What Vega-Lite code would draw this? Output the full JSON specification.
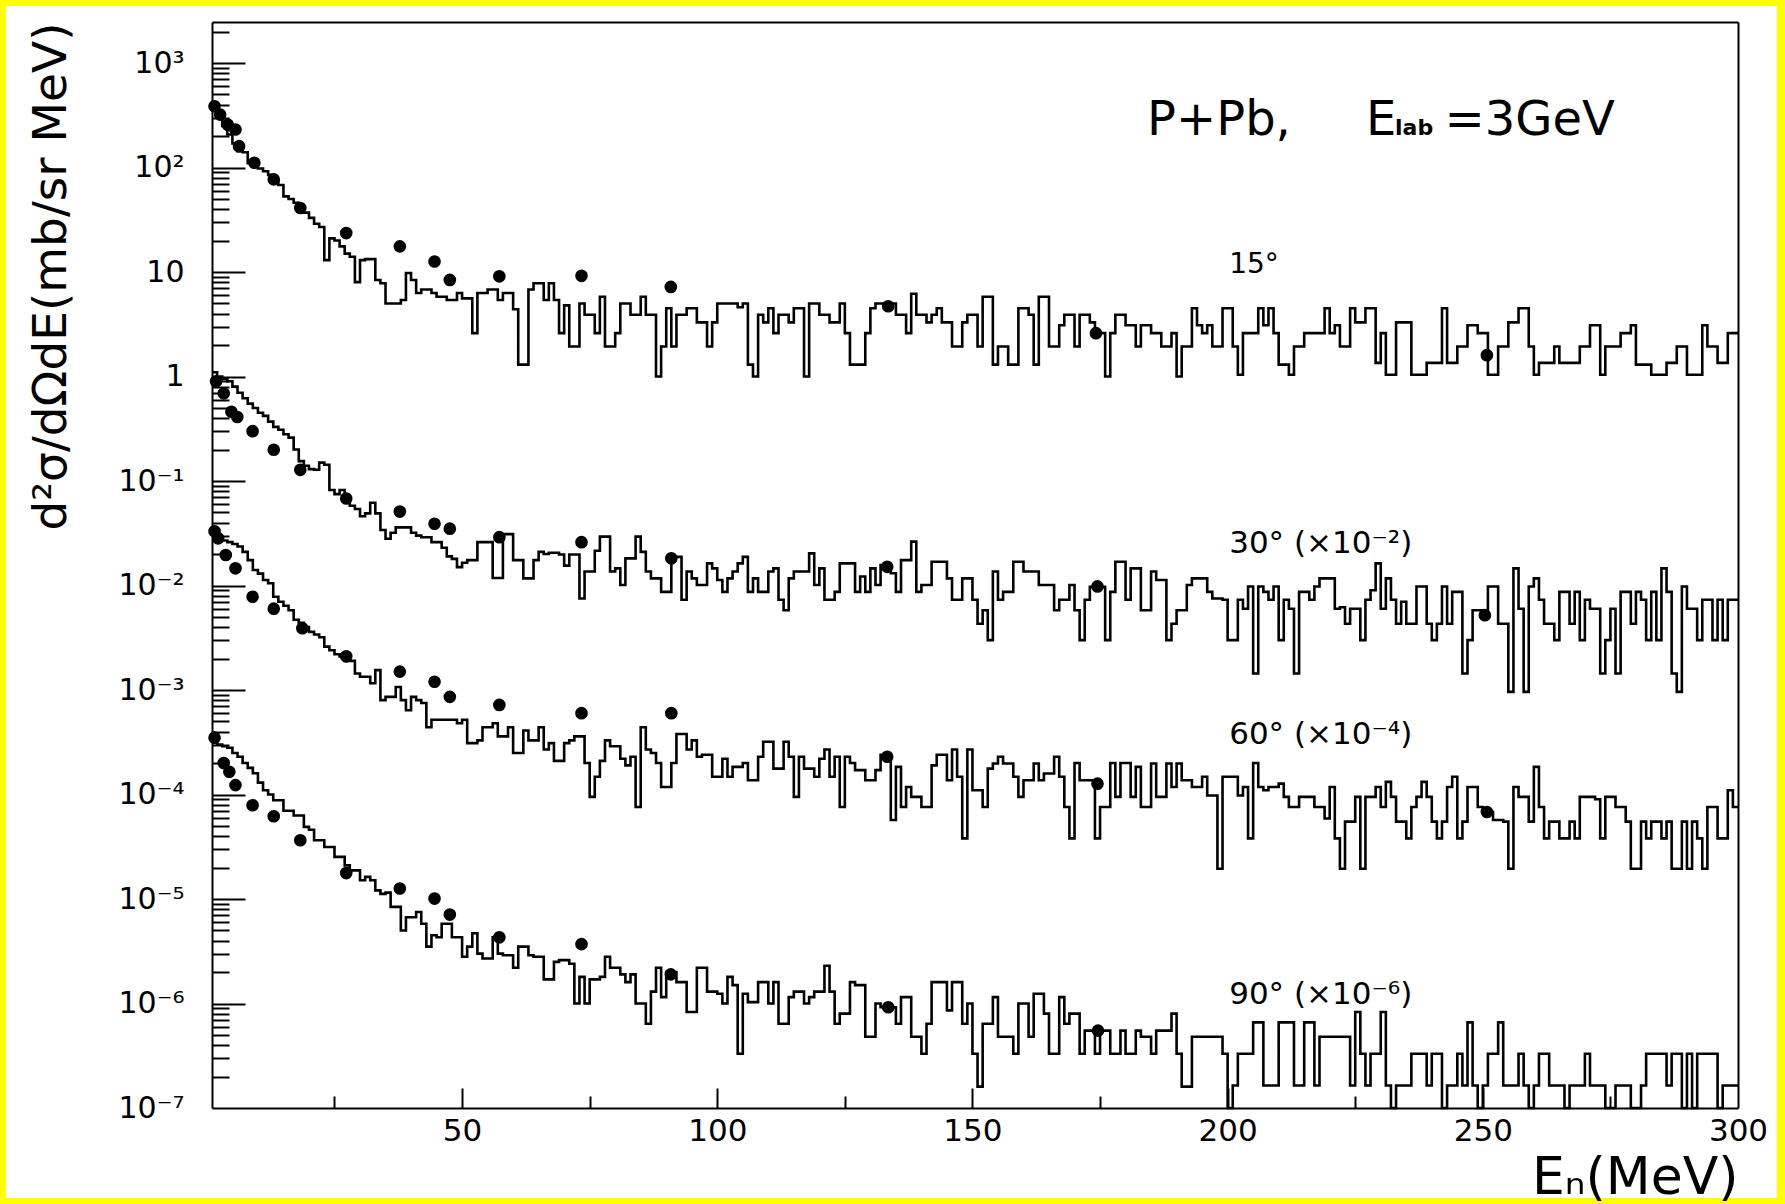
{
"$schema":"https://vega.github.io/schema/vega-lite/v6.json",
"width":1771,"height":1192,
"autosize":{"type":"none"},
"padding":{"left":6,"top":6,"right":8,"bottom":6},
"background":"#ffff00",
"config":{"view":{"fill":"#ffffff","stroke":null},"font":"DejaVu Sans",
"axis":{"grid":false,"domainColor":"#000000","domainWidth":2,"tickColor":"#000000","tickWidth":2,"labelColor":"#000000","titleColor":"#000000","labelFont":"DejaVu Sans","titleFont":"DejaVu Sans","titleFontWeight":"normal","labelFlush":false,"labelOverlap":false}},
"datasets":{
"hist":[
{"a":15,"e":1,"v":360},{"a":15,"e":2,"v":300},{"a":15,"e":3,"v":250},{"a":15,"e":4,"v":207},{"a":15,"e":5,"v":170},{"a":15,"e":6,"v":143},{"a":15,"e":7,"v":140},{"a":15,"e":8,"v":110},{"a":15,"e":9,"v":102},{"a":15,"e":10,"v":98},
{"a":15,"e":11,"v":92},{"a":15,"e":12,"v":85},{"a":15,"e":13,"v":76},{"a":15,"e":14,"v":68},{"a":15,"e":15,"v":53},{"a":15,"e":16,"v":50},{"a":15,"e":17,"v":46},{"a":15,"e":18,"v":40},{"a":15,"e":19,"v":37},{"a":15,"e":20,"v":33},
{"a":15,"e":21,"v":29},{"a":15,"e":22,"v":27},{"a":15,"e":23,"v":13},{"a":15,"e":24,"v":21},{"a":15,"e":25,"v":20},{"a":15,"e":26,"v":17.6},{"a":15,"e":27,"v":15},{"a":15,"e":28,"v":14},{"a":15,"e":29,"v":8},{"a":15,"e":30,"v":13},
{"a":15,"e":31,"v":13.3},{"a":15,"e":32,"v":13.3},{"a":15,"e":33,"v":8.4},{"a":15,"e":34,"v":7.8},{"a":15,"e":35,"v":5},{"a":15,"e":36,"v":5},{"a":15,"e":37,"v":5},{"a":15,"e":38,"v":5.4},{"a":15,"e":39,"v":9.8},{"a":15,"e":40,"v":8.4},
{"a":15,"e":41,"v":6.3},{"a":15,"e":42,"v":6.8},{"a":15,"e":43,"v":6.8},{"a":15,"e":44,"v":6.3},{"a":15,"e":45,"v":5.8},{"a":15,"e":46,"v":5.8},{"a":15,"e":47,"v":5.4},{"a":15,"e":48,"v":5.4},{"a":15,"e":49,"v":6.3},{"a":15,"e":50,"v":5.6},
{"a":15,"e":51,"v":5.6},{"a":15,"e":52,"v":2.6},{"a":15,"e":53,"v":6.3},{"a":15,"e":54,"v":6.3},{"a":15,"e":55,"v":6.8},{"a":15,"e":56,"v":6.8},{"a":15,"e":57,"v":5.4},{"a":15,"e":58,"v":6.3},{"a":15,"e":59,"v":6.3},{"a":15,"e":60,"v":4.4},
{"a":15,"e":61,"v":1.3},{"a":15,"e":62,"v":1.3},{"a":15,"e":63,"v":6.8},{"a":15,"e":64,"v":7.8},{"a":15,"e":65,"v":7.8},{"a":15,"e":66,"v":5.4},{"a":15,"e":67,"v":7.8},{"a":15,"e":68,"v":5.4},{"a":15,"e":69,"v":2.6},{"a":15,"e":70,"v":4.8},
{"a":15,"e":71,"v":1.94},{"a":15,"e":72,"v":1.94},{"a":15,"e":73,"v":5},{"a":15,"e":74,"v":3.9},{"a":15,"e":75,"v":3.9},{"a":15,"e":76,"v":2.6},{"a":15,"e":77,"v":5.8},{"a":15,"e":78,"v":1.94},{"a":15,"e":79,"v":1.94},{"a":15,"e":80,"v":2.6},
{"a":15,"e":81,"v":5},{"a":15,"e":82,"v":5},{"a":15,"e":83,"v":3.9},{"a":15,"e":84,"v":3.9},{"a":15,"e":85,"v":5.8},{"a":15,"e":86,"v":3.9},{"a":15,"e":87,"v":3.9},{"a":15,"e":88,"v":1},{"a":15,"e":89,"v":1.94},{"a":15,"e":90,"v":4.5},
{"a":15,"e":91,"v":1.94},{"a":15,"e":92,"v":3.9},{"a":15,"e":93,"v":3.9},{"a":15,"e":94,"v":4.5},{"a":15,"e":95,"v":4.5},{"a":15,"e":96,"v":3.3},{"a":15,"e":97,"v":3.3},{"a":15,"e":98,"v":1.94},{"a":15,"e":99,"v":3.3},{"a":15,"e":100,"v":5},
{"a":15,"e":101,"v":5},{"a":15,"e":102,"v":5},{"a":15,"e":103,"v":5},{"a":15,"e":104,"v":4.6},{"a":15,"e":105,"v":5},{"a":15,"e":106,"v":1.3},{"a":15,"e":107,"v":1},{"a":15,"e":108,"v":3.9},{"a":15,"e":109,"v":3.3},{"a":15,"e":110,"v":4.5},
{"a":15,"e":111,"v":2.6},{"a":15,"e":112,"v":3.9},{"a":15,"e":113,"v":3.9},{"a":15,"e":114,"v":3.3},{"a":15,"e":115,"v":4.5},{"a":15,"e":116,"v":4.5},{"a":15,"e":117,"v":1},{"a":15,"e":118,"v":5},{"a":15,"e":119,"v":5},{"a":15,"e":120,"v":3.9},
{"a":15,"e":121,"v":3.9},{"a":15,"e":122,"v":3.3},{"a":15,"e":123,"v":3.3},{"a":15,"e":124,"v":5},{"a":15,"e":125,"v":2.6},{"a":15,"e":126,"v":1.3},{"a":15,"e":127,"v":1.3},{"a":15,"e":128,"v":1.3},{"a":15,"e":129,"v":2.6},{"a":15,"e":130,"v":4.5},
{"a":15,"e":131,"v":5},{"a":15,"e":132,"v":5},{"a":15,"e":133,"v":4.7},{"a":15,"e":134,"v":5},{"a":15,"e":135,"v":3.9},{"a":15,"e":136,"v":3.9},{"a":15,"e":137,"v":2.6},{"a":15,"e":138,"v":6.2},{"a":15,"e":139,"v":3.9},{"a":15,"e":140,"v":3.9},
{"a":15,"e":141,"v":3.3},{"a":15,"e":142,"v":3.9},{"a":15,"e":143,"v":4.5},{"a":15,"e":144,"v":3.3},{"a":15,"e":145,"v":3.3},{"a":15,"e":146,"v":1.94},{"a":15,"e":147,"v":1.94},{"a":15,"e":148,"v":3.3},{"a":15,"e":149,"v":3.9},{"a":15,"e":150,"v":3.9},
{"a":15,"e":151,"v":1.94},{"a":15,"e":152,"v":5.8},{"a":15,"e":153,"v":5.8},{"a":15,"e":154,"v":1.3},{"a":15,"e":155,"v":1.94},{"a":15,"e":156,"v":1.94},{"a":15,"e":157,"v":1.3},{"a":15,"e":158,"v":1.3},{"a":15,"e":159,"v":4.5},{"a":15,"e":160,"v":4.5},
{"a":15,"e":161,"v":3.9},{"a":15,"e":162,"v":1.3},{"a":15,"e":163,"v":5.8},{"a":15,"e":164,"v":5.8},{"a":15,"e":165,"v":1.94},{"a":15,"e":166,"v":1.94},{"a":15,"e":167,"v":3.1},{"a":15,"e":168,"v":3.9},{"a":15,"e":169,"v":3.9},{"a":15,"e":170,"v":1.94},
{"a":15,"e":171,"v":3.9},{"a":15,"e":172,"v":3.9},{"a":15,"e":173,"v":3.3},{"a":15,"e":174,"v":2.6},{"a":15,"e":175,"v":2.6},{"a":15,"e":176,"v":1},{"a":15,"e":177,"v":2.6},{"a":15,"e":178,"v":3.9},{"a":15,"e":179,"v":3.9},{"a":15,"e":180,"v":3.1},
{"a":15,"e":181,"v":3.1},{"a":15,"e":182,"v":1.94},{"a":15,"e":183,"v":3.1},{"a":15,"e":184,"v":3.1},{"a":15,"e":185,"v":2.6},{"a":15,"e":186,"v":2.6},{"a":15,"e":187,"v":1.94},{"a":15,"e":188,"v":1.94},{"a":15,"e":189,"v":2.6},{"a":15,"e":190,"v":1},
{"a":15,"e":191,"v":1.94},{"a":15,"e":192,"v":1.94},{"a":15,"e":193,"v":4.5},{"a":15,"e":194,"v":3.1},{"a":15,"e":195,"v":2.6},{"a":15,"e":196,"v":3.1},{"a":15,"e":197,"v":1.94},{"a":15,"e":198,"v":1.94},{"a":15,"e":199,"v":4.5},{"a":15,"e":200,"v":4.5},
{"a":15,"e":201,"v":1.94},{"a":15,"e":202,"v":1.04},{"a":15,"e":203,"v":2.6},{"a":15,"e":204,"v":2.6},{"a":15,"e":205,"v":2.6},{"a":15,"e":206,"v":4.5},{"a":15,"e":207,"v":3.1},{"a":15,"e":208,"v":4.5},{"a":15,"e":209,"v":2.6},{"a":15,"e":210,"v":1.3},
{"a":15,"e":211,"v":1.3},{"a":15,"e":212,"v":1.04},{"a":15,"e":213,"v":1.94},{"a":15,"e":214,"v":1.94},{"a":15,"e":215,"v":2.6},{"a":15,"e":216,"v":2.6},{"a":15,"e":217,"v":2.6},{"a":15,"e":218,"v":2.6},{"a":15,"e":219,"v":4.5},{"a":15,"e":220,"v":2.6},
{"a":15,"e":221,"v":3.1},{"a":15,"e":222,"v":1.94},{"a":15,"e":223,"v":1.94},{"a":15,"e":224,"v":4.5},{"a":15,"e":225,"v":3.3},{"a":15,"e":226,"v":3.3},{"a":15,"e":227,"v":4.5},{"a":15,"e":228,"v":4.5},{"a":15,"e":229,"v":1.35},{"a":15,"e":230,"v":2.6},
{"a":15,"e":231,"v":1.04},{"a":15,"e":232,"v":1.04},{"a":15,"e":233,"v":3.3},{"a":15,"e":234,"v":3.3},{"a":15,"e":235,"v":3.3},{"a":15,"e":236,"v":1.04},{"a":15,"e":237,"v":1.04},{"a":15,"e":238,"v":1.04},{"a":15,"e":239,"v":1.35},{"a":15,"e":240,"v":1.35},
{"a":15,"e":241,"v":1.35},{"a":15,"e":242,"v":4.5},{"a":15,"e":243,"v":1.35},{"a":15,"e":244,"v":1.35},{"a":15,"e":245,"v":1.94},{"a":15,"e":246,"v":1.94},{"a":15,"e":247,"v":3.1},{"a":15,"e":248,"v":3.1},{"a":15,"e":249,"v":2.6},{"a":15,"e":250,"v":2.6},
{"a":15,"e":251,"v":1.04},{"a":15,"e":252,"v":1.04},{"a":15,"e":253,"v":1.94},{"a":15,"e":254,"v":1.94},{"a":15,"e":255,"v":3.3},{"a":15,"e":256,"v":3.3},{"a":15,"e":257,"v":4.5},{"a":15,"e":258,"v":4.5},{"a":15,"e":259,"v":1.94},{"a":15,"e":260,"v":1.04},
{"a":15,"e":261,"v":1.35},{"a":15,"e":262,"v":1.35},{"a":15,"e":263,"v":1.35},{"a":15,"e":264,"v":1.94},{"a":15,"e":265,"v":1.35},{"a":15,"e":266,"v":1.35},{"a":15,"e":267,"v":1.35},{"a":15,"e":268,"v":1.35},{"a":15,"e":269,"v":1.94},{"a":15,"e":270,"v":1.94},
{"a":15,"e":271,"v":3.1},{"a":15,"e":272,"v":3.1},{"a":15,"e":273,"v":1.04},{"a":15,"e":274,"v":1.94},{"a":15,"e":275,"v":1.94},{"a":15,"e":276,"v":1.94},{"a":15,"e":277,"v":2.6},{"a":15,"e":278,"v":2.6},{"a":15,"e":279,"v":3.1},{"a":15,"e":280,"v":1.3},
{"a":15,"e":281,"v":1.3},{"a":15,"e":282,"v":1.3},{"a":15,"e":283,"v":1.04},{"a":15,"e":284,"v":1.04},{"a":15,"e":285,"v":1.04},{"a":15,"e":286,"v":1.35},{"a":15,"e":287,"v":1.35},{"a":15,"e":288,"v":1.94},{"a":15,"e":289,"v":1.94},{"a":15,"e":290,"v":1.04},
{"a":15,"e":291,"v":1.04},{"a":15,"e":292,"v":1.04},{"a":15,"e":293,"v":3.1},{"a":15,"e":294,"v":1.94},{"a":15,"e":295,"v":1.94},{"a":15,"e":296,"v":1.35},{"a":15,"e":297,"v":1.35},{"a":15,"e":298,"v":2.6},{"a":15,"e":299,"v":2.6},{"a":15,"e":300,"v":2.6},
{"a":30,"e":1,"v":1.1},{"a":30,"e":2,"v":1.0},{"a":30,"e":3,"v":0.95},{"a":30,"e":4,"v":0.9},{"a":30,"e":5,"v":0.8},{"a":30,"e":6,"v":0.7},{"a":30,"e":7,"v":0.62},{"a":30,"e":8,"v":0.55},{"a":30,"e":9,"v":0.5},{"a":30,"e":10,"v":0.45},
{"a":30,"e":11,"v":0.42},{"a":30,"e":12,"v":0.37},{"a":30,"e":13,"v":0.33},{"a":30,"e":14,"v":0.31},{"a":30,"e":15,"v":0.28},{"a":30,"e":16,"v":0.26},{"a":30,"e":17,"v":0.2},{"a":30,"e":18,"v":0.155},{"a":30,"e":19,"v":0.14},{"a":30,"e":20,"v":0.13},
{"a":30,"e":21,"v":0.128},{"a":30,"e":22,"v":0.15},{"a":30,"e":23,"v":0.143},{"a":30,"e":24,"v":0.082},{"a":30,"e":25,"v":0.075},{"a":30,"e":26,"v":0.082},{"a":30,"e":27,"v":0.068},{"a":30,"e":28,"v":0.058},{"a":30,"e":29,"v":0.054},{"a":30,"e":30,"v":0.046},
{"a":30,"e":31,"v":0.049},{"a":30,"e":32,"v":0.062},{"a":30,"e":33,"v":0.049},{"a":30,"e":34,"v":0.034},{"a":30,"e":35,"v":0.028},{"a":30,"e":36,"v":0.032},{"a":30,"e":37,"v":0.036},{"a":30,"e":38,"v":0.036},{"a":30,"e":39,"v":0.036},{"a":30,"e":40,"v":0.032},
{"a":30,"e":41,"v":0.03},{"a":30,"e":42,"v":0.029},{"a":30,"e":43,"v":0.029},{"a":30,"e":44,"v":0.026},{"a":30,"e":45,"v":0.026},{"a":30,"e":46,"v":0.023},{"a":30,"e":47,"v":0.019},{"a":30,"e":48,"v":0.018},{"a":30,"e":49,"v":0.015},{"a":30,"e":50,"v":0.0165},
{"a":30,"e":51,"v":0.0175},{"a":30,"e":52,"v":0.0175},{"a":30,"e":53,"v":0.026},{"a":30,"e":54,"v":0.026},{"a":30,"e":55,"v":0.026},{"a":30,"e":56,"v":0.0118},{"a":30,"e":57,"v":0.0118},{"a":30,"e":58,"v":0.031},{"a":30,"e":59,"v":0.031},{"a":30,"e":60,"v":0.0175},
{"a":30,"e":61,"v":0.0175},{"a":30,"e":62,"v":0.0117},{"a":30,"e":63,"v":0.0117},{"a":30,"e":64,"v":0.0175},{"a":30,"e":65,"v":0.021},{"a":30,"e":66,"v":0.02},{"a":30,"e":67,"v":0.0206},{"a":30,"e":68,"v":0.0206},{"a":30,"e":69,"v":0.0198},{"a":30,"e":70,"v":0.0155},
{"a":30,"e":71,"v":0.0198},{"a":30,"e":72,"v":0.0198},{"a":30,"e":73,"v":0.0075},{"a":30,"e":74,"v":0.0136},{"a":30,"e":75,"v":0.0136},{"a":30,"e":76,"v":0.0215},{"a":30,"e":77,"v":0.0294},{"a":30,"e":78,"v":0.0294},{"a":30,"e":79,"v":0.0136},{"a":30,"e":80,"v":0.0146},
{"a":30,"e":81,"v":0.0101},{"a":30,"e":82,"v":0.0182},{"a":30,"e":83,"v":0.0182},{"a":30,"e":84,"v":0.0294},{"a":30,"e":85,"v":0.021},{"a":30,"e":86,"v":0.0136},{"a":30,"e":87,"v":0.0117},{"a":30,"e":88,"v":0.0117},{"a":30,"e":89,"v":0.0087},{"a":30,"e":90,"v":0.0087},
{"a":30,"e":91,"v":0.0188},{"a":30,"e":92,"v":0.0188},{"a":30,"e":93,"v":0.0073},{"a":30,"e":94,"v":0.0136},{"a":30,"e":95,"v":0.0117},{"a":30,"e":96,"v":0.0101},{"a":30,"e":97,"v":0.0101},{"a":30,"e":98,"v":0.0163},{"a":30,"e":99,"v":0.0146},{"a":30,"e":100,"v":0.0113},
{"a":30,"e":101,"v":0.0087},{"a":30,"e":102,"v":0.0117},{"a":30,"e":103,"v":0.0136},{"a":30,"e":104,"v":0.0163},{"a":30,"e":105,"v":0.0188},{"a":30,"e":106,"v":0.0087},{"a":30,"e":107,"v":0.0117},{"a":30,"e":108,"v":0.0087},{"a":30,"e":109,"v":0.0087},{"a":30,"e":110,"v":0.0136},
{"a":30,"e":111,"v":0.0146},{"a":30,"e":112,"v":0.0073},{"a":30,"e":113,"v":0.0058},{"a":30,"e":114,"v":0.0117},{"a":30,"e":115,"v":0.0136},{"a":30,"e":116,"v":0.0136},{"a":30,"e":117,"v":0.0136},{"a":30,"e":118,"v":0.0203},{"a":30,"e":119,"v":0.0101},{"a":30,"e":120,"v":0.0146},
{"a":30,"e":121,"v":0.0073},{"a":30,"e":122,"v":0.0073},{"a":30,"e":123,"v":0.0087},{"a":30,"e":124,"v":0.0163},{"a":30,"e":125,"v":0.0163},{"a":30,"e":126,"v":0.0163},{"a":30,"e":127,"v":0.0087},{"a":30,"e":128,"v":0.0122},{"a":30,"e":129,"v":0.0087},{"a":30,"e":130,"v":0.0146},
{"a":30,"e":131,"v":0.0101},{"a":30,"e":132,"v":0.0157},{"a":30,"e":133,"v":0.0157},{"a":30,"e":134,"v":0.0131},{"a":30,"e":135,"v":0.0087},{"a":30,"e":136,"v":0.0175},{"a":30,"e":137,"v":0.0175},{"a":30,"e":138,"v":0.0263},{"a":30,"e":139,"v":0.0087},{"a":30,"e":140,"v":0.0101},
{"a":30,"e":141,"v":0.0101},{"a":30,"e":142,"v":0.0169},{"a":30,"e":143,"v":0.0169},{"a":30,"e":144,"v":0.0169},{"a":30,"e":145,"v":0.0117},{"a":30,"e":146,"v":0.0073},{"a":30,"e":147,"v":0.0073},{"a":30,"e":148,"v":0.0117},{"a":30,"e":149,"v":0.0117},{"a":30,"e":150,"v":0.0073},
{"a":30,"e":151,"v":0.0043},{"a":30,"e":152,"v":0.0058},{"a":30,"e":153,"v":0.003},{"a":30,"e":154,"v":0.0136},{"a":30,"e":155,"v":0.0073},{"a":30,"e":156,"v":0.0087},{"a":30,"e":157,"v":0.0087},{"a":30,"e":158,"v":0.0169},{"a":30,"e":159,"v":0.0169},{"a":30,"e":160,"v":0.0136},
{"a":30,"e":161,"v":0.0136},{"a":30,"e":162,"v":0.0136},{"a":30,"e":163,"v":0.0101},{"a":30,"e":164,"v":0.0101},{"a":30,"e":165,"v":0.0101},{"a":30,"e":166,"v":0.0058},{"a":30,"e":167,"v":0.0073},{"a":30,"e":168,"v":0.0073},{"a":30,"e":169,"v":0.0101},{"a":30,"e":170,"v":0.0058},
{"a":30,"e":171,"v":0.003},{"a":30,"e":172,"v":0.0073},{"a":30,"e":173,"v":0.0097},{"a":30,"e":174,"v":0.0097},{"a":30,"e":175,"v":0.0097},{"a":30,"e":176,"v":0.003},{"a":30,"e":177,"v":0.0087},{"a":30,"e":178,"v":0.0169},{"a":30,"e":179,"v":0.0169},{"a":30,"e":180,"v":0.0073},
{"a":30,"e":181,"v":0.0146},{"a":30,"e":182,"v":0.0146},{"a":30,"e":183,"v":0.0058},{"a":30,"e":184,"v":0.0058},{"a":30,"e":185,"v":0.0136},{"a":30,"e":186,"v":0.0113},{"a":30,"e":187,"v":0.0113},{"a":30,"e":188,"v":0.003},{"a":30,"e":189,"v":0.0043},{"a":30,"e":190,"v":0.0058},
{"a":30,"e":191,"v":0.0058},{"a":30,"e":192,"v":0.0101},{"a":30,"e":193,"v":0.0117},{"a":30,"e":194,"v":0.0117},{"a":30,"e":195,"v":0.0117},{"a":30,"e":196,"v":0.0087},{"a":30,"e":197,"v":0.0075},{"a":30,"e":198,"v":0.0075},{"a":30,"e":199,"v":0.0073},{"a":30,"e":200,"v":0.003},
{"a":30,"e":201,"v":0.003},{"a":30,"e":202,"v":0.0073},{"a":30,"e":203,"v":0.006},{"a":30,"e":204,"v":0.0098},{"a":30,"e":205,"v":0.00144},{"a":30,"e":206,"v":0.0098},{"a":30,"e":207,"v":0.0087},{"a":30,"e":208,"v":0.0073},{"a":30,"e":209,"v":0.0098},{"a":30,"e":210,"v":0.003},
{"a":30,"e":211,"v":0.0073},{"a":30,"e":212,"v":0.006},{"a":30,"e":213,"v":0.00144},{"a":30,"e":214,"v":0.0087},{"a":30,"e":215,"v":0.0087},{"a":30,"e":216,"v":0.0073},{"a":30,"e":217,"v":0.0098},{"a":30,"e":218,"v":0.0117},{"a":30,"e":219,"v":0.0117},{"a":30,"e":220,"v":0.0117},
{"a":30,"e":221,"v":0.006},{"a":30,"e":222,"v":0.0062},{"a":30,"e":223,"v":0.0043},{"a":30,"e":224,"v":0.006},{"a":30,"e":225,"v":0.006},{"a":30,"e":226,"v":0.003},{"a":30,"e":227,"v":0.0073},{"a":30,"e":228,"v":0.009},{"a":30,"e":229,"v":0.0163},{"a":30,"e":230,"v":0.006},
{"a":30,"e":231,"v":0.0117},{"a":30,"e":232,"v":0.0073},{"a":30,"e":233,"v":0.0043},{"a":30,"e":234,"v":0.007},{"a":30,"e":235,"v":0.0043},{"a":30,"e":236,"v":0.0043},{"a":30,"e":237,"v":0.0098},{"a":30,"e":238,"v":0.0098},{"a":30,"e":239,"v":0.0043},{"a":30,"e":240,"v":0.003},
{"a":30,"e":241,"v":0.0043},{"a":30,"e":242,"v":0.0098},{"a":30,"e":243,"v":0.0043},{"a":30,"e":244,"v":0.0087},{"a":30,"e":245,"v":0.0087},{"a":30,"e":246,"v":0.00144},{"a":30,"e":247,"v":0.003},{"a":30,"e":248,"v":0.0058},{"a":30,"e":249,"v":0.0058},{"a":30,"e":250,"v":0.0052},
{"a":30,"e":251,"v":0.0098},{"a":30,"e":252,"v":0.0098},{"a":30,"e":253,"v":0.0043},{"a":30,"e":254,"v":0.0043},{"a":30,"e":255,"v":0.00096},{"a":30,"e":256,"v":0.0146},{"a":30,"e":257,"v":0.006},{"a":30,"e":258,"v":0.00096},{"a":30,"e":259,"v":0.0098},{"a":30,"e":260,"v":0.0117},
{"a":30,"e":261,"v":0.0073},{"a":30,"e":262,"v":0.0043},{"a":30,"e":263,"v":0.0043},{"a":30,"e":264,"v":0.003},{"a":30,"e":265,"v":0.0087},{"a":30,"e":266,"v":0.0087},{"a":30,"e":267,"v":0.0043},{"a":30,"e":268,"v":0.0087},{"a":30,"e":269,"v":0.003},{"a":30,"e":270,"v":0.0073},
{"a":30,"e":271,"v":0.006},{"a":30,"e":272,"v":0.006},{"a":30,"e":273,"v":0.00144},{"a":30,"e":274,"v":0.003},{"a":30,"e":275,"v":0.006},{"a":30,"e":276,"v":0.00144},{"a":30,"e":277,"v":0.0087},{"a":30,"e":278,"v":0.0087},{"a":30,"e":279,"v":0.0043},{"a":30,"e":280,"v":0.0087},
{"a":30,"e":281,"v":0.0073},{"a":30,"e":282,"v":0.003},{"a":30,"e":283,"v":0.0087},{"a":30,"e":284,"v":0.003},{"a":30,"e":285,"v":0.0146},{"a":30,"e":286,"v":0.0087},{"a":30,"e":287,"v":0.00144},{"a":30,"e":288,"v":0.00096},{"a":30,"e":289,"v":0.0098},{"a":30,"e":290,"v":0.006},
{"a":30,"e":291,"v":0.006},{"a":30,"e":292,"v":0.003},{"a":30,"e":293,"v":0.0073},{"a":30,"e":294,"v":0.0073},{"a":30,"e":295,"v":0.003},{"a":30,"e":296,"v":0.0073},{"a":30,"e":297,"v":0.003},{"a":30,"e":298,"v":0.0073},{"a":30,"e":299,"v":0.0073},{"a":30,"e":300,"v":0.0073},
{"a":60,"e":1,"v":0.03},{"a":60,"e":2,"v":0.028},{"a":60,"e":3,"v":0.027},{"a":60,"e":4,"v":0.026},{"a":60,"e":5,"v":0.025},{"a":60,"e":6,"v":0.0236},{"a":60,"e":7,"v":0.021},{"a":60,"e":8,"v":0.0175},{"a":60,"e":9,"v":0.0141},{"a":60,"e":10,"v":0.013},
{"a":60,"e":11,"v":0.0113},{"a":60,"e":12,"v":0.0105},{"a":60,"e":13,"v":0.0078},{"a":60,"e":14,"v":0.007},{"a":60,"e":15,"v":0.0064},{"a":60,"e":16,"v":0.0058},{"a":60,"e":17,"v":0.0047},{"a":60,"e":18,"v":0.0044},{"a":60,"e":19,"v":0.004},{"a":60,"e":20,"v":0.0036},
{"a":60,"e":21,"v":0.0034},{"a":60,"e":22,"v":0.0032},{"a":60,"e":23,"v":0.0026},{"a":60,"e":24,"v":0.0024},{"a":60,"e":25,"v":0.0022},{"a":60,"e":26,"v":0.0021},{"a":60,"e":27,"v":0.0019},{"a":60,"e":28,"v":0.0019},{"a":60,"e":29,"v":0.00144},{"a":60,"e":30,"v":0.00134},
{"a":60,"e":31,"v":0.00134},{"a":60,"e":32,"v":0.00116},{"a":60,"e":33,"v":0.00155},{"a":60,"e":34,"v":0.0008},{"a":60,"e":35,"v":0.00086},{"a":60,"e":36,"v":0.00086},{"a":60,"e":37,"v":0.00107},{"a":60,"e":38,"v":0.0008},{"a":60,"e":39,"v":0.00064},{"a":60,"e":40,"v":0.00086},
{"a":60,"e":41,"v":0.0008},{"a":60,"e":42,"v":0.00075},{"a":60,"e":43,"v":0.00044},{"a":60,"e":44,"v":0.00052},{"a":60,"e":45,"v":0.00052},{"a":60,"e":46,"v":0.00052},{"a":60,"e":47,"v":0.00052},{"a":60,"e":48,"v":0.00052},{"a":60,"e":49,"v":0.00048},{"a":60,"e":50,"v":0.00052},
{"a":60,"e":51,"v":0.00031},{"a":60,"e":52,"v":0.00031},{"a":60,"e":53,"v":0.00033},{"a":60,"e":54,"v":0.00044},{"a":60,"e":55,"v":0.00044},{"a":60,"e":56,"v":0.00048},{"a":60,"e":57,"v":0.00036},{"a":60,"e":58,"v":0.00036},{"a":60,"e":59,"v":0.00044},{"a":60,"e":60,"v":0.00025},
{"a":60,"e":61,"v":0.00025},{"a":60,"e":62,"v":0.00041},{"a":60,"e":63,"v":0.00033},{"a":60,"e":64,"v":0.00033},{"a":60,"e":65,"v":0.00044},{"a":60,"e":66,"v":0.00027},{"a":60,"e":67,"v":0.00031},{"a":60,"e":68,"v":0.00021},{"a":60,"e":69,"v":0.00021},{"a":60,"e":70,"v":0.00031},
{"a":60,"e":71,"v":0.00033},{"a":60,"e":72,"v":0.00036},{"a":60,"e":73,"v":0.00036},{"a":60,"e":74,"v":0.0002},{"a":60,"e":75,"v":0.000095},{"a":60,"e":76,"v":0.000148},{"a":60,"e":77,"v":0.00021},{"a":60,"e":78,"v":0.00033},{"a":60,"e":79,"v":0.00029},{"a":60,"e":80,"v":0.00029},
{"a":60,"e":81,"v":0.00022},{"a":60,"e":82,"v":0.00019},{"a":60,"e":83,"v":0.00023},{"a":60,"e":84,"v":0.000076},{"a":60,"e":85,"v":0.00044},{"a":60,"e":86,"v":0.00027},{"a":60,"e":87,"v":0.00025},{"a":60,"e":88,"v":0.0002},{"a":60,"e":89,"v":0.000118},{"a":60,"e":90,"v":0.000118},
{"a":60,"e":91,"v":0.0002},{"a":60,"e":92,"v":0.00038},{"a":60,"e":93,"v":0.00038},{"a":60,"e":94,"v":0.00027},{"a":60,"e":95,"v":0.00033},{"a":60,"e":96,"v":0.00023},{"a":60,"e":97,"v":0.00024},{"a":60,"e":98,"v":0.00024},{"a":60,"e":99,"v":0.000148},{"a":60,"e":100,"v":0.000148},
{"a":60,"e":101,"v":0.00022},{"a":60,"e":102,"v":0.000148},{"a":60,"e":103,"v":0.000184},{"a":60,"e":104,"v":0.000184},{"a":60,"e":105,"v":0.0002},{"a":60,"e":106,"v":0.000137},{"a":60,"e":107,"v":0.000137},{"a":60,"e":108,"v":0.00023},{"a":60,"e":109,"v":0.00032},{"a":60,"e":110,"v":0.00032},
{"a":60,"e":111,"v":0.000177},{"a":60,"e":112,"v":0.000177},{"a":60,"e":113,"v":0.00032},{"a":60,"e":114,"v":0.00023},{"a":60,"e":115,"v":0.000095},{"a":60,"e":116,"v":0.00023},{"a":60,"e":117,"v":0.000177},{"a":60,"e":118,"v":0.000177},{"a":60,"e":119,"v":0.000148},{"a":60,"e":120,"v":0.00022},
{"a":60,"e":121,"v":0.00027},{"a":60,"e":122,"v":0.000148},{"a":60,"e":123,"v":0.00023},{"a":60,"e":124,"v":0.000076},{"a":60,"e":125,"v":0.00023},{"a":60,"e":126,"v":0.0002},{"a":60,"e":127,"v":0.000171},{"a":60,"e":128,"v":0.000171},{"a":60,"e":129,"v":0.000137},{"a":60,"e":130,"v":0.000137},
{"a":60,"e":131,"v":0.000171},{"a":60,"e":132,"v":0.00024},{"a":60,"e":133,"v":0.00024},{"a":60,"e":134,"v":0.000057},{"a":60,"e":135,"v":0.000184},{"a":60,"e":136,"v":0.000076},{"a":60,"e":137,"v":0.000118},{"a":60,"e":138,"v":0.000095},{"a":60,"e":139,"v":0.000095},{"a":60,"e":140,"v":0.000076},
{"a":60,"e":141,"v":0.000076},{"a":60,"e":142,"v":0.00019},{"a":60,"e":143,"v":0.00024},{"a":60,"e":144,"v":0.00024},{"a":60,"e":145,"v":0.000137},{"a":60,"e":146,"v":0.00027},{"a":60,"e":147,"v":0.000148},{"a":60,"e":148,"v":0.000038},{"a":60,"e":149,"v":0.00027},{"a":60,"e":150,"v":0.00011},
{"a":60,"e":151,"v":0.00011},{"a":60,"e":152,"v":0.000076},{"a":60,"e":153,"v":0.000177},{"a":60,"e":154,"v":0.000198},{"a":60,"e":155,"v":0.00023},{"a":60,"e":156,"v":0.000198},{"a":60,"e":157,"v":0.000198},{"a":60,"e":158,"v":0.000148},{"a":60,"e":159,"v":0.000095},{"a":60,"e":160,"v":0.000137},
{"a":60,"e":161,"v":0.000137},{"a":60,"e":162,"v":0.000198},{"a":60,"e":163,"v":0.000137},{"a":60,"e":164,"v":0.000159},{"a":60,"e":165,"v":0.000159},{"a":60,"e":166,"v":0.00023},{"a":60,"e":167,"v":0.000148},{"a":60,"e":168,"v":0.000076},{"a":60,"e":169,"v":0.000038},{"a":60,"e":170,"v":0.0002},
{"a":60,"e":171,"v":0.000137},{"a":60,"e":172,"v":0.000137},{"a":60,"e":173,"v":0.000137},{"a":60,"e":174,"v":0.000038},{"a":60,"e":175,"v":0.000076},{"a":60,"e":176,"v":0.000076},{"a":60,"e":177,"v":0.0002},{"a":60,"e":178,"v":0.000095},{"a":60,"e":179,"v":0.0002},{"a":60,"e":180,"v":0.0002},
{"a":60,"e":181,"v":0.000095},{"a":60,"e":182,"v":0.000184},{"a":60,"e":183,"v":0.000076},{"a":60,"e":184,"v":0.000076},{"a":60,"e":185,"v":0.000198},{"a":60,"e":186,"v":0.000095},{"a":60,"e":187,"v":0.000095},{"a":60,"e":188,"v":0.000198},{"a":60,"e":189,"v":0.000118},{"a":60,"e":190,"v":0.000198},
{"a":60,"e":191,"v":0.000137},{"a":60,"e":192,"v":0.000137},{"a":60,"e":193,"v":0.000118},{"a":60,"e":194,"v":0.000118},{"a":60,"e":195,"v":0.000148},{"a":60,"e":196,"v":0.000098},{"a":60,"e":197,"v":0.000098},{"a":60,"e":198,"v":0.0000195},{"a":60,"e":199,"v":0.000148},{"a":60,"e":200,"v":0.000148},
{"a":60,"e":201,"v":0.000148},{"a":60,"e":202,"v":0.000098},{"a":60,"e":203,"v":0.000118},{"a":60,"e":204,"v":0.000038},{"a":60,"e":205,"v":0.0002},{"a":60,"e":206,"v":0.000118},{"a":60,"e":207,"v":0.00011},{"a":60,"e":208,"v":0.000118},{"a":60,"e":209,"v":0.000118},{"a":60,"e":210,"v":0.000127},
{"a":60,"e":211,"v":0.000095},{"a":60,"e":212,"v":0.000076},{"a":60,"e":213,"v":0.000076},{"a":60,"e":214,"v":0.000095},{"a":60,"e":215,"v":0.000095},{"a":60,"e":216,"v":0.000095},{"a":60,"e":217,"v":0.000076},{"a":60,"e":218,"v":0.000076},{"a":60,"e":219,"v":0.000059},{"a":60,"e":220,"v":0.000118},
{"a":60,"e":221,"v":0.000038},{"a":60,"e":222,"v":0.0000195},{"a":60,"e":223,"v":0.000055},{"a":60,"e":224,"v":0.000055},{"a":60,"e":225,"v":0.000095},{"a":60,"e":226,"v":0.0000195},{"a":60,"e":227,"v":0.000095},{"a":60,"e":228,"v":0.000095},{"a":60,"e":229,"v":0.000118},{"a":60,"e":230,"v":0.000076},
{"a":60,"e":231,"v":0.000132},{"a":60,"e":232,"v":0.000095},{"a":60,"e":233,"v":0.000055},{"a":60,"e":234,"v":0.000055},{"a":60,"e":235,"v":0.000038},{"a":60,"e":236,"v":0.000076},{"a":60,"e":237,"v":0.000095},{"a":60,"e":238,"v":0.000132},{"a":60,"e":239,"v":0.000095},{"a":60,"e":240,"v":0.000055},
{"a":60,"e":241,"v":0.000038},{"a":60,"e":242,"v":0.000055},{"a":60,"e":243,"v":0.000118},{"a":60,"e":244,"v":0.000148},{"a":60,"e":245,"v":0.000038},{"a":60,"e":246,"v":0.000055},{"a":60,"e":247,"v":0.000118},{"a":60,"e":248,"v":0.000118},{"a":60,"e":249,"v":0.000076},{"a":60,"e":250,"v":0.000068},
{"a":60,"e":251,"v":0.000068},{"a":60,"e":252,"v":0.000057},{"a":60,"e":253,"v":0.000057},{"a":60,"e":254,"v":0.000055},{"a":60,"e":255,"v":0.0000195},{"a":60,"e":256,"v":0.000118},{"a":60,"e":257,"v":0.000095},{"a":60,"e":258,"v":0.000095},{"a":60,"e":259,"v":0.000055},{"a":60,"e":260,"v":0.000184},
{"a":60,"e":261,"v":0.000076},{"a":60,"e":262,"v":0.000038},{"a":60,"e":263,"v":0.000055},{"a":60,"e":264,"v":0.000055},{"a":60,"e":265,"v":0.000038},{"a":60,"e":266,"v":0.000038},{"a":60,"e":267,"v":0.000055},{"a":60,"e":268,"v":0.000038},{"a":60,"e":269,"v":0.000095},{"a":60,"e":270,"v":0.000095},
{"a":60,"e":271,"v":0.000095},{"a":60,"e":272,"v":0.00009},{"a":60,"e":273,"v":0.000038},{"a":60,"e":274,"v":0.000095},{"a":60,"e":275,"v":0.000095},{"a":60,"e":276,"v":0.000076},{"a":60,"e":277,"v":0.000076},{"a":60,"e":278,"v":0.000055},{"a":60,"e":279,"v":0.0000195},{"a":60,"e":280,"v":0.0000195},
{"a":60,"e":281,"v":0.000055},{"a":60,"e":282,"v":0.000038},{"a":60,"e":283,"v":0.000055},{"a":60,"e":284,"v":0.000055},{"a":60,"e":285,"v":0.000038},{"a":60,"e":286,"v":0.000055},{"a":60,"e":287,"v":0.0000195},{"a":60,"e":288,"v":0.0000195},{"a":60,"e":289,"v":0.000055},{"a":60,"e":290,"v":0.0000195},
{"a":60,"e":291,"v":0.000055},{"a":60,"e":292,"v":0.000038},{"a":60,"e":293,"v":0.0000195},{"a":60,"e":294,"v":0.000076},{"a":60,"e":295,"v":0.000076},{"a":60,"e":296,"v":0.000038},{"a":60,"e":297,"v":0.000038},{"a":60,"e":298,"v":0.00011},{"a":60,"e":299,"v":0.000076},{"a":60,"e":300,"v":0.000076},
{"a":90,"e":1,"v":3.2e-4},{"a":90,"e":2,"v":3e-4},{"a":90,"e":3,"v":2.9e-4},{"a":90,"e":4,"v":2.8e-4},{"a":90,"e":5,"v":2.5e-4},{"a":90,"e":6,"v":2.3e-4},{"a":90,"e":7,"v":2e-4},{"a":90,"e":8,"v":1.8e-4},{"a":90,"e":9,"v":1.6e-4},{"a":90,"e":10,"v":1.3e-4},
{"a":90,"e":11,"v":1.1e-4},{"a":90,"e":12,"v":1e-4},{"a":90,"e":13,"v":8.8e-5},{"a":90,"e":14,"v":8.8e-5},{"a":90,"e":15,"v":7e-5},{"a":90,"e":16,"v":7e-5},{"a":90,"e":17,"v":6.3e-5},{"a":90,"e":18,"v":6.3e-5},{"a":90,"e":19,"v":4.9e-5},{"a":90,"e":20,"v":4.6e-5},
{"a":90,"e":21,"v":3.65e-5},{"a":90,"e":22,"v":3.65e-5},{"a":90,"e":23,"v":3.15e-5},{"a":90,"e":24,"v":3.15e-5},{"a":90,"e":25,"v":2.53e-5},{"a":90,"e":26,"v":2.53e-5},{"a":90,"e":27,"v":2.1e-5},{"a":90,"e":28,"v":1.88e-5},{"a":90,"e":29,"v":1.88e-5},{"a":90,"e":30,"v":1.51e-5},
{"a":90,"e":31,"v":1.63e-5},{"a":90,"e":32,"v":1.51e-5},{"a":90,"e":33,"v":1.21e-5},{"a":90,"e":34,"v":1.12e-5},{"a":90,"e":35,"v":1.15e-5},{"a":90,"e":36,"v":8.4e-6},{"a":90,"e":37,"v":8.4e-6},{"a":90,"e":38,"v":5e-6},{"a":90,"e":39,"v":6.7e-6},{"a":90,"e":40,"v":6.7e-6},
{"a":90,"e":41,"v":7.5e-6},{"a":90,"e":42,"v":5.8e-6},{"a":90,"e":43,"v":3.5e-6},{"a":90,"e":44,"v":4.5e-6},{"a":90,"e":45,"v":4.3e-6},{"a":90,"e":46,"v":5.8e-6},{"a":90,"e":47,"v":5.8e-6},{"a":90,"e":48,"v":4.3e-6},{"a":90,"e":49,"v":4.3e-6},{"a":90,"e":50,"v":2.8e-6},
{"a":90,"e":51,"v":3.5e-6},{"a":90,"e":52,"v":4.7e-6},{"a":90,"e":53,"v":3e-6},{"a":90,"e":54,"v":2.7e-6},{"a":90,"e":55,"v":2.7e-6},{"a":90,"e":56,"v":4.3e-6},{"a":90,"e":57,"v":3e-6},{"a":90,"e":58,"v":2.9e-6},{"a":90,"e":59,"v":2.9e-6},{"a":90,"e":60,"v":2.2e-6},
{"a":90,"e":61,"v":3.5e-6},{"a":90,"e":62,"v":3.5e-6},{"a":90,"e":63,"v":2.9e-6},{"a":90,"e":64,"v":2.8e-6},{"a":90,"e":65,"v":2.8e-6},{"a":90,"e":66,"v":1.7e-6},{"a":90,"e":67,"v":1.7e-6},{"a":90,"e":68,"v":2.5e-6},{"a":90,"e":69,"v":2.6e-6},{"a":90,"e":70,"v":2.6e-6},
{"a":90,"e":71,"v":2.4e-6},{"a":90,"e":72,"v":1e-6},{"a":90,"e":73,"v":1.8e-6},{"a":90,"e":74,"v":1e-6},{"a":90,"e":75,"v":1.7e-6},{"a":90,"e":76,"v":1.7e-6},{"a":90,"e":77,"v":1.8e-6},{"a":90,"e":78,"v":2.8e-6},{"a":90,"e":79,"v":2.2e-6},{"a":90,"e":80,"v":2.2e-6},
{"a":90,"e":81,"v":1.9e-6},{"a":90,"e":82,"v":1.6e-6},{"a":90,"e":83,"v":1.9e-6},{"a":90,"e":84,"v":1e-6},{"a":90,"e":85,"v":1e-6},{"a":90,"e":86,"v":6.4e-7},{"a":90,"e":87,"v":1.3e-6},{"a":90,"e":88,"v":2.2e-6},{"a":90,"e":89,"v":1.15e-6},{"a":90,"e":90,"v":2e-6},
{"a":90,"e":91,"v":2e-6},{"a":90,"e":92,"v":1.6e-6},{"a":90,"e":93,"v":1.6e-6},{"a":90,"e":94,"v":8.3e-7},{"a":90,"e":95,"v":8.3e-7},{"a":90,"e":96,"v":2.2e-6},{"a":90,"e":97,"v":2.2e-6},{"a":90,"e":98,"v":1.3e-6},{"a":90,"e":99,"v":1.3e-6},{"a":90,"e":100,"v":1.24e-6},
{"a":90,"e":101,"v":1e-6},{"a":90,"e":102,"v":1.8e-6},{"a":90,"e":103,"v":1.5e-6},{"a":90,"e":104,"v":3.3e-7},{"a":90,"e":105,"v":1.24e-6},{"a":90,"e":106,"v":1.03e-6},{"a":90,"e":107,"v":1.03e-6},{"a":90,"e":108,"v":1.6e-6},{"a":90,"e":109,"v":1.6e-6},{"a":90,"e":110,"v":1e-6},
{"a":90,"e":111,"v":1.6e-6},{"a":90,"e":112,"v":6.4e-7},{"a":90,"e":113,"v":6.4e-7},{"a":90,"e":114,"v":1.15e-6},{"a":90,"e":115,"v":1.3e-6},{"a":90,"e":116,"v":1.3e-6},{"a":90,"e":117,"v":1e-6},{"a":90,"e":118,"v":1.15e-6},{"a":90,"e":119,"v":1.3e-6},{"a":90,"e":120,"v":1.3e-6},
{"a":90,"e":121,"v":2.3e-6},{"a":90,"e":122,"v":1.3e-6},{"a":90,"e":123,"v":6.4e-7},{"a":90,"e":124,"v":8e-7},{"a":90,"e":125,"v":8e-7},{"a":90,"e":126,"v":1.6e-6},{"a":90,"e":127,"v":1.5e-6},{"a":90,"e":128,"v":1.5e-6},{"a":90,"e":129,"v":4.8e-7},{"a":90,"e":130,"v":4.8e-7},
{"a":90,"e":131,"v":1e-6},{"a":90,"e":132,"v":9.2e-7},{"a":90,"e":133,"v":9.2e-7},{"a":90,"e":134,"v":9.2e-7},{"a":90,"e":135,"v":6.4e-7},{"a":90,"e":136,"v":1.15e-6},{"a":90,"e":137,"v":1.15e-6},{"a":90,"e":138,"v":4.8e-7},{"a":90,"e":139,"v":4.8e-7},{"a":90,"e":140,"v":3.3e-7},
{"a":90,"e":141,"v":6.4e-7},{"a":90,"e":142,"v":1.6e-6},{"a":90,"e":143,"v":1.6e-6},{"a":90,"e":144,"v":1.6e-6},{"a":90,"e":145,"v":8.6e-7},{"a":90,"e":146,"v":1.6e-6},{"a":90,"e":147,"v":1.6e-6},{"a":90,"e":148,"v":6.4e-7},{"a":90,"e":149,"v":1e-6},{"a":90,"e":150,"v":3.3e-7},
{"a":90,"e":151,"v":1.6e-7},{"a":90,"e":152,"v":6.4e-7},{"a":90,"e":153,"v":6.4e-7},{"a":90,"e":154,"v":1.15e-6},{"a":90,"e":155,"v":4.8e-7},{"a":90,"e":156,"v":4.8e-7},{"a":90,"e":157,"v":4.8e-7},{"a":90,"e":158,"v":3.3e-7},{"a":90,"e":159,"v":1e-6},{"a":90,"e":160,"v":1e-6},
{"a":90,"e":161,"v":4.8e-7},{"a":90,"e":162,"v":1.24e-6},{"a":90,"e":163,"v":1.24e-6},{"a":90,"e":164,"v":8e-7},{"a":90,"e":165,"v":3.3e-7},{"a":90,"e":166,"v":3.3e-7},{"a":90,"e":167,"v":1.15e-6},{"a":90,"e":168,"v":6.4e-7},{"a":90,"e":169,"v":8e-7},{"a":90,"e":170,"v":8e-7},
{"a":90,"e":171,"v":3.3e-7},{"a":90,"e":172,"v":5.5e-7},{"a":90,"e":173,"v":5.5e-7},{"a":90,"e":174,"v":3.3e-7},{"a":90,"e":175,"v":5.5e-7},{"a":90,"e":176,"v":5.5e-7},{"a":90,"e":177,"v":3.3e-7},{"a":90,"e":178,"v":3.3e-7},{"a":90,"e":179,"v":5.5e-7},{"a":90,"e":180,"v":3.3e-7},
{"a":90,"e":181,"v":3.3e-7},{"a":90,"e":182,"v":5.5e-7},{"a":90,"e":183,"v":4.8e-7},{"a":90,"e":184,"v":4.8e-7},{"a":90,"e":185,"v":3.3e-7},{"a":90,"e":186,"v":5.5e-7},{"a":90,"e":187,"v":5.5e-7},{"a":90,"e":188,"v":5.5e-7},{"a":90,"e":189,"v":8e-7},{"a":90,"e":190,"v":3.3e-7},
{"a":90,"e":191,"v":1.6e-7},{"a":90,"e":192,"v":1.6e-7},{"a":90,"e":193,"v":4.8e-7},{"a":90,"e":194,"v":4.8e-7},{"a":90,"e":195,"v":4.8e-7},{"a":90,"e":196,"v":4.8e-7},{"a":90,"e":197,"v":4.8e-7},{"a":90,"e":198,"v":4.8e-7},{"a":90,"e":199,"v":3.3e-7},{"a":90,"e":200,"v":1e-7},
{"a":90,"e":201,"v":1.64e-7},{"a":90,"e":202,"v":3.3e-7},{"a":90,"e":203,"v":3.3e-7},{"a":90,"e":204,"v":3.3e-7},{"a":90,"e":205,"v":6.6e-7},{"a":90,"e":206,"v":6.6e-7},{"a":90,"e":207,"v":1.64e-7},{"a":90,"e":208,"v":1.64e-7},{"a":90,"e":209,"v":1.64e-7},{"a":90,"e":210,"v":6.6e-7},
{"a":90,"e":211,"v":6.6e-7},{"a":90,"e":212,"v":6.6e-7},{"a":90,"e":213,"v":1.64e-7},{"a":90,"e":214,"v":1.64e-7},{"a":90,"e":215,"v":6.6e-7},{"a":90,"e":216,"v":6.6e-7},{"a":90,"e":217,"v":1.64e-7},{"a":90,"e":218,"v":4.8e-7},{"a":90,"e":219,"v":4.8e-7},{"a":90,"e":220,"v":4.8e-7},
{"a":90,"e":221,"v":4.8e-7},{"a":90,"e":222,"v":4.8e-7},{"a":90,"e":223,"v":4.8e-7},{"a":90,"e":224,"v":1.64e-7},{"a":90,"e":225,"v":8.3e-7},{"a":90,"e":226,"v":3.3e-7},{"a":90,"e":227,"v":1.64e-7},{"a":90,"e":228,"v":3.3e-7},{"a":90,"e":229,"v":3.3e-7},{"a":90,"e":230,"v":8.3e-7},
{"a":90,"e":231,"v":1.64e-7},{"a":90,"e":232,"v":1e-7},{"a":90,"e":233,"v":1.64e-7},{"a":90,"e":234,"v":1.64e-7},{"a":90,"e":235,"v":1.64e-7},{"a":90,"e":236,"v":3.3e-7},{"a":90,"e":237,"v":3.3e-7},{"a":90,"e":238,"v":3.3e-7},{"a":90,"e":239,"v":1.64e-7},{"a":90,"e":240,"v":3.3e-7},
{"a":90,"e":241,"v":3.3e-7},{"a":90,"e":242,"v":1e-7},{"a":90,"e":243,"v":1.64e-7},{"a":90,"e":244,"v":1.64e-7},{"a":90,"e":245,"v":3.3e-7},{"a":90,"e":246,"v":1.64e-7},{"a":90,"e":247,"v":6.6e-7},{"a":90,"e":248,"v":1.64e-7},{"a":90,"e":249,"v":1e-7},{"a":90,"e":250,"v":1.64e-7},
{"a":90,"e":251,"v":3.3e-7},{"a":90,"e":252,"v":3.3e-7},{"a":90,"e":253,"v":6.6e-7},{"a":90,"e":254,"v":1.64e-7},{"a":90,"e":255,"v":1.64e-7},{"a":90,"e":256,"v":1.64e-7},{"a":90,"e":257,"v":3.3e-7},{"a":90,"e":258,"v":1.64e-7},{"a":90,"e":259,"v":1e-7},{"a":90,"e":260,"v":1.64e-7},
{"a":90,"e":261,"v":3.3e-7},{"a":90,"e":262,"v":3.3e-7},{"a":90,"e":263,"v":1.64e-7},{"a":90,"e":264,"v":1.64e-7},{"a":90,"e":265,"v":1.64e-7},{"a":90,"e":266,"v":1e-7},{"a":90,"e":267,"v":1.64e-7},{"a":90,"e":268,"v":1.64e-7},{"a":90,"e":269,"v":1.64e-7},{"a":90,"e":270,"v":3.3e-7},
{"a":90,"e":271,"v":1.64e-7},{"a":90,"e":272,"v":1.64e-7},{"a":90,"e":273,"v":1.64e-7},{"a":90,"e":274,"v":1e-7},{"a":90,"e":275,"v":1e-7},{"a":90,"e":276,"v":1.64e-7},{"a":90,"e":277,"v":1.64e-7},{"a":90,"e":278,"v":1.64e-7},{"a":90,"e":279,"v":1e-7},{"a":90,"e":280,"v":1e-7},
{"a":90,"e":281,"v":1.64e-7},{"a":90,"e":282,"v":3.3e-7},{"a":90,"e":283,"v":3.3e-7},{"a":90,"e":284,"v":3.3e-7},{"a":90,"e":285,"v":3.3e-7},{"a":90,"e":286,"v":1.64e-7},{"a":90,"e":287,"v":3.3e-7},{"a":90,"e":288,"v":3.3e-7},{"a":90,"e":289,"v":1e-7},{"a":90,"e":290,"v":3.3e-7},
{"a":90,"e":291,"v":1e-7},{"a":90,"e":292,"v":3.3e-7},{"a":90,"e":293,"v":3.3e-7},{"a":90,"e":294,"v":3.3e-7},{"a":90,"e":295,"v":3.3e-7},{"a":90,"e":296,"v":1e-7},{"a":90,"e":297,"v":1.64e-7},{"a":90,"e":298,"v":1.64e-7},{"a":90,"e":299,"v":1.64e-7},{"a":90,"e":300,"v":1.64e-7}
],
"pts":[
{"a":15,"e":1.5,"v":386},{"a":15,"e":2.6,"v":321},{"a":15,"e":4.1,"v":257},{"a":15,"e":5.6,"v":231},{"a":15,"e":6.3,"v":160},{"a":15,"e":9.3,"v":111},{"a":15,"e":13.1,"v":77},{"a":15,"e":18.3,"v":41},{"a":15,"e":27.3,"v":23.6},{"a":15,"e":37.8,"v":17.6},{"a":15,"e":44.6,"v":12.6},{"a":15,"e":47.6,"v":8.4},{"a":15,"e":57.3,"v":9.1},{"a":15,"e":73.4,"v":9.2},{"a":15,"e":90.9,"v":7.2},{"a":15,"e":133.5,"v":4.7},{"a":15,"e":174.2,"v":2.6},{"a":15,"e":250.8,"v":1.6},
{"a":30,"e":1.8,"v":0.9},{"a":30,"e":3.3,"v":0.69},{"a":30,"e":4.8,"v":0.46},{"a":30,"e":5.95,"v":0.41},{"a":30,"e":8.95,"v":0.3},{"a":30,"e":13.1,"v":0.199},{"a":30,"e":18.3,"v":0.128},{"a":30,"e":27.3,"v":0.068},{"a":30,"e":37.8,"v":0.051},{"a":30,"e":44.6,"v":0.039},{"a":30,"e":47.6,"v":0.035},{"a":30,"e":57.3,"v":0.029},{"a":30,"e":73.4,"v":0.026},{"a":30,"e":91.0,"v":0.0182},{"a":30,"e":133.3,"v":0.0151},{"a":30,"e":174.5,"v":0.0098},{"a":30,"e":250.4,"v":0.0052},
{"a":60,"e":1.5,"v":0.033},{"a":60,"e":2.2,"v":0.0283},{"a":60,"e":3.7,"v":0.0196},{"a":60,"e":5.6,"v":0.0146},{"a":60,"e":8.95,"v":0.0078},{"a":60,"e":13.1,"v":0.006},{"a":60,"e":18.7,"v":0.0039},{"a":60,"e":27.3,"v":0.0021},{"a":60,"e":37.8,"v":0.0015},{"a":60,"e":44.6,"v":0.0012},{"a":60,"e":47.6,"v":0.00086},{"a":60,"e":57.3,"v":0.00072},{"a":60,"e":73.4,"v":0.0006},{"a":60,"e":91.0,"v":0.0006},{"a":60,"e":133.3,"v":0.00023},{"a":60,"e":174.5,"v":0.000127},{"a":60,"e":250.8,"v":0.000068},
{"a":90,"e":1.5,"v":0.00035},{"a":90,"e":3.3,"v":0.0002},{"a":90,"e":4.4,"v":0.000165},{"a":90,"e":5.6,"v":0.000123},{"a":90,"e":8.95,"v":0.000079},{"a":90,"e":13.1,"v":0.000062},{"a":90,"e":18.3,"v":0.0000365},{"a":90,"e":27.3,"v":0.0000177},{"a":90,"e":37.8,"v":0.0000126},{"a":90,"e":44.6,"v":0.0000101},{"a":90,"e":47.6,"v":0.0000071},{"a":90,"e":57.3,"v":0.0000043},{"a":90,"e":73.4,"v":0.0000037},{"a":90,"e":90.9,"v":0.0000019},{"a":90,"e":133.5,"v":9.2e-7},{"a":90,"e":174.6,"v":5.5e-7}
],
"ann":[
{"k":"bigc","t":"P+Pb,","e":198.3,"v":281},
{"k":"bigl","t":"E","e":227.1,"v":281},
{"k":"bigl","t":"=3GeV","e":242.5,"v":281},
{"k":"sub","t":"lab","e":232.8,"v":240},
{"k":"ang","t":"30°  (×10⁻²)","e":200.3,"v":0.025},
{"k":"ang","t":"60°  (×10⁻⁴)","e":200.3,"v":0.00037},
{"k":"ang","t":"90°  (×10⁻⁶)","e":200.3,"v":1.2e-6},
{"k":"small","t":"15°","e":200.3,"v":11.8}
]
},
"resolve":{"scale":{"x":"shared","y":"shared"},"axis":{"x":"independent","y":"independent"}},
"layer":[
{"data":{"name":"hist"},
 "mark":{"type":"line","interpolate":"step-after","color":"#000000","strokeWidth":2.6},
 "encoding":{
  "x":{"field":"e","type":"quantitative","scale":{"domain":[1,300],"range":[206,1732],"nice":false,"zero":false},
       "axis":{"orient":"bottom","offset":-90,"values":[50,100,150,200,250,300],"ticks":false,"domain":true,"labels":true,"labelFontSize":31,"labelPadding":8,"title":"Eₙ(MeV)","titleFontSize":52,"titleAnchor":"end","titlePadding":6}},
  "y":{"field":"v","type":"quantitative","scale":{"type":"log","domain":[1e-7,2470],"range":[1102,16],"nice":false},
       "axis":{"orient":"left","offset":-206,"values":[1e-7,1e-6,1e-5,1e-4,1e-3,0.01,0.1,1,10,100,1000],"ticks":false,"domain":true,"labelFontSize":30,"labelPadding":28,
       "labelExpr":"datum.value >= 999 ? '10³' : datum.value >= 99 ? '10²' : datum.value >= 9 ? '10' : datum.value >= 0.9 ? '1' : datum.value >= 0.09 ? '10⁻¹' : datum.value >= 0.009 ? '10⁻²' : datum.value >= 0.0009 ? '10⁻³' : datum.value >= 0.00009 ? '10⁻⁴' : datum.value >= 0.000009 ? '10⁻⁵' : datum.value >= 0.0000009 ? '10⁻⁶' : '10⁻⁷'",
       "title":"d²σ/dΩdE(mb/sr MeV)","titleFontSize":47,"titleAnchor":"end","titlePadding":42}},
  "detail":{"field":"a","type":"nominal"}
 }},
{"data":{"name":"pts"},
 "mark":{"type":"point","filled":true,"color":"#000000","opacity":1,"size":160},
 "encoding":{
  "x":{"field":"e","type":"quantitative","scale":{"domain":[1,300],"range":[206,1732],"nice":false,"zero":false},
       "axis":{"orient":"bottom","offset":-90,"values":[50,100,150,200,250],"labels":false,"domain":false,"ticks":true,"tickSize":-20,"title":null}},
  "y":{"field":"v","type":"quantitative","scale":{"type":"log","domain":[1e-7,2470],"range":[1102,16],"nice":false},
       "axis":{"orient":"left","offset":-206,"values":[1e-6,1e-5,1e-4,1e-3,0.01,0.1,1,10,100,1000],"labels":false,"domain":false,"ticks":true,"tickSize":-33,"title":null}}
 }},
{"data":{"name":"ann"},
 "transform":[{"filter":"datum.k === 'bigc'"}],
 "mark":{"type":"text","fontSize":48,"align":"center","baseline":"middle","color":"#000000"},
 "encoding":{
  "x":{"field":"e","type":"quantitative","scale":{"domain":[1,300],"range":[206,1732],"nice":false,"zero":false},
       "axis":{"orient":"bottom","offset":-90,"values":[25,75,125,175,225,275],"labels":false,"domain":false,"ticks":true,"tickSize":-12,"title":null}},
  "y":{"field":"v","type":"quantitative","scale":{"type":"log","domain":[1e-7,2470],"range":[1102,16],"nice":false},
       "axis":{"orient":"left","offset":-206,"values":[2e-7,3e-7,4e-7,5e-7,6e-7,7e-7,8e-7,9e-7,2e-6,3e-6,4e-6,5e-6,6e-6,7e-6,8e-6,9e-6,2e-5,3e-5,4e-5,5e-5,6e-5,7e-5,8e-5,9e-5,2e-4,3e-4,4e-4,5e-4,6e-4,7e-4,8e-4,9e-4,0.002,0.003,0.004,0.005,0.006,0.007,0.008,0.009,0.02,0.03,0.04,0.05,0.06,0.07,0.08,0.09,0.2,0.3,0.4,0.5,0.6,0.7,0.8,0.9,2,3,4,5,6,7,8,9,20,30,40,50,60,70,80,90,200,300,400,500,600,700,800,900,2000],"labels":false,"domain":false,"ticks":true,"tickSize":-17,"title":null}},
  "text":{"field":"t","type":"nominal"}
 }},
{"data":{"name":"ann"},
 "transform":[{"filter":"datum.k === 'sub'"}],
 "mark":{"type":"text","fontSize":22,"fontWeight":"bold","align":"left","baseline":"middle","color":"#000000"},
 "encoding":{
  "x":{"field":"e","type":"quantitative","scale":{"domain":[1,300],"range":[206,1732],"nice":false,"zero":false},
       "axis":{"orient":"top","offset":-16,"labels":false,"ticks":false,"domain":true,"title":null}},
  "y":{"field":"v","type":"quantitative","scale":{"type":"log","domain":[1e-7,2470],"range":[1102,16],"nice":false},
       "axis":{"orient":"right","offset":-39,"labels":false,"ticks":false,"domain":true,"title":null}},
  "text":{"field":"t","type":"nominal"}
 }},
{"data":{"name":"ann"},
 "transform":[{"filter":"datum.k === 'bigl'"}],
 "mark":{"type":"text","fontSize":48,"align":"left","baseline":"middle","color":"#000000"},
 "encoding":{
  "x":{"field":"e","type":"quantitative","scale":{"domain":[1,300],"range":[206,1732],"nice":false,"zero":false},"axis":null},
  "y":{"field":"v","type":"quantitative","scale":{"type":"log","domain":[1e-7,2470],"range":[1102,16],"nice":false},"axis":null},
  "text":{"field":"t","type":"nominal"}
 }},
{"data":{"name":"ann"},
 "transform":[{"filter":"datum.k === 'ang'"}],
 "mark":{"type":"text","fontSize":31,"align":"left","baseline":"middle","color":"#000000"},
 "encoding":{
  "x":{"field":"e","type":"quantitative","scale":{"domain":[1,300],"range":[206,1732],"nice":false,"zero":false},"axis":null},
  "y":{"field":"v","type":"quantitative","scale":{"type":"log","domain":[1e-7,2470],"range":[1102,16],"nice":false},"axis":null},
  "text":{"field":"t","type":"nominal"}
 }},
{"data":{"name":"ann"},
 "transform":[{"filter":"datum.k === 'small'"}],
 "mark":{"type":"text","fontSize":28,"align":"left","baseline":"middle","color":"#000000"},
 "encoding":{
  "x":{"field":"e","type":"quantitative","scale":{"domain":[1,300],"range":[206,1732],"nice":false,"zero":false},"axis":null},
  "y":{"field":"v","type":"quantitative","scale":{"type":"log","domain":[1e-7,2470],"range":[1102,16],"nice":false},"axis":null},
  "text":{"field":"t","type":"nominal"}
 }}
]
}
